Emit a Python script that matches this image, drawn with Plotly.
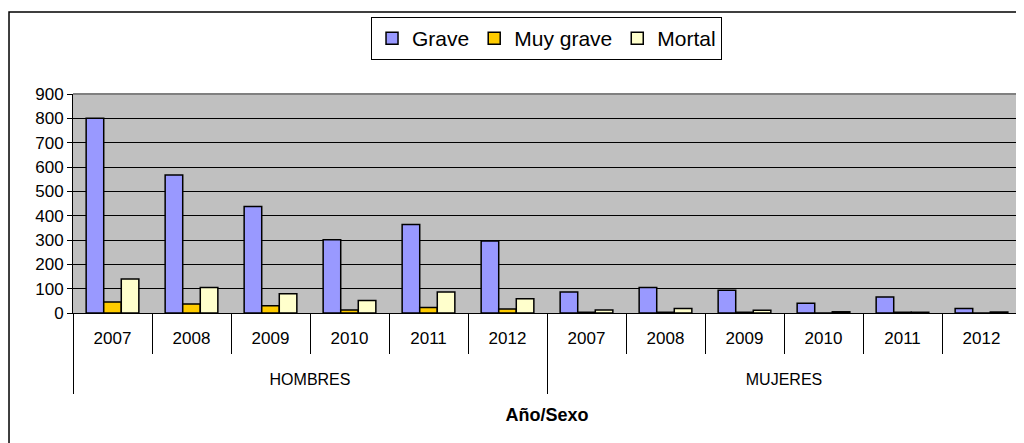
import plotly.graph_objects as go

groups = ["HOMBRES"] * 6 + ["MUJERES"] * 6
years = ["2007", "2008", "2009", "2010", "2011", "2012"] * 2

grave = [800, 567, 438, 301, 364, 296, 86, 105, 93, 40, 66, 18]
muy_grave = [45, 37, 30, 12, 23, 16, 3, 3, 3, 0, 3, 0]
mortal = [140, 105, 79, 51, 86, 59, 12, 18, 11, 5, 3, 4]

y_ticks = list(range(0, 901, 100))

series = [
    ("Grave", grave, "#9999FF"),
    ("Muy grave", muy_grave, "#FFCC00"),
    ("Mortal", mortal, "#FFFFCC"),
]

idx = list(range(len(years)))
group_names = []
for g in groups:
    if g not in group_names:
        group_names.append(g)
group_centers = [sum(i for i in idx if groups[i] == g) / groups.count(g) for g in group_names]
group_bounds = [-0.5] + [i + 0.5 for i in idx[:-1] if groups[i] != groups[i + 1]] + [len(idx) - 0.5]
cat_bounds = [i - 0.5 for i in idx] + [len(idx) - 0.5]
xr = [-0.5, len(idx) - 0.5]

fig = go.Figure()
for name, vals, col in series:
    fig.add_trace(go.Bar(
        x=idx, y=vals, name=name,
        marker=dict(color=col, line=dict(color="black", width=1.5)),
    ))
# invisible carrier trace so the outer (group) axis is rendered
fig.add_trace(go.Scatter(
    x=group_centers, y=[None] * len(group_centers), xaxis="x2", yaxis="y",
    mode="markers", showlegend=False, hoverinfo="skip",
))

W, H = 1016, 435
fig.update_layout(
    width=W, height=H,
    margin=dict(l=65, r=3, t=86, b=130, autoexpand=False),
    paper_bgcolor="white",
    plot_bgcolor="#C0C0C0",
    barmode="group",
    bargap=0.333,
    bargroupgap=0,
    font=dict(family="Liberation Sans, Arial, sans-serif", color="black", size=17),
    showlegend=True,
    legend=dict(
        orientation="h", x=0.4995, xanchor="center", y=1.3516, yanchor="top",
        bordercolor="black", borderwidth=1, bgcolor="white",
        font=dict(size=21), itemwidth=30, tracegroupgap=0,
    ),
    xaxis=dict(
        range=xr, automargin=False,
        tickmode="array", tickvals=idx, ticktext=years,
        ticks="", ticklabelstandoff=10,
        minor=dict(tickmode="array", tickvals=cat_bounds, ticks="outside",
                   ticklen=40, tickcolor="black", tickwidth=1, showgrid=False),
        showline=True, linecolor="black", linewidth=1,
        showgrid=False, zeroline=False,
        tickfont=dict(size=17),
    ),
    xaxis2=dict(
        range=xr, overlaying="x", side="bottom", anchor="y", automargin=False,
        tickmode="array", tickvals=group_centers, ticktext=group_names,
        ticks="", ticklabelstandoff=55,
        minor=dict(tickmode="array", tickvals=group_bounds, ticks="outside",
                   ticklen=80, tickcolor="black", tickwidth=1, showgrid=False),
        showline=False, showgrid=False, zeroline=False,
        tickfont=dict(size=16),
        title=dict(text="<b>Año/Sexo</b>", font=dict(size=18), standoff=21),
    ),
    yaxis=dict(
        range=[0, 900], tickmode="array", tickvals=y_ticks, automargin=False,
        showgrid=True, gridcolor="black", gridwidth=1,
        showline=True, linecolor="black", linewidth=1,
        ticks="outside", ticklen=5, tickcolor="black",
        zeroline=False,
        tickfont=dict(size=17),
    ),
    shapes=[
        dict(type="rect", xref="paper", yref="paper",
             x0=-0.0675, x1=1.02, y0=-0.7, y1=1.374,
             line=dict(color="black", width=1.5), fillcolor="rgba(0,0,0,0)", layer="below"),
        dict(type="line", xref="paper", yref="paper", x0=0, x1=1, y0=1, y1=1,
             line=dict(color="#808080", width=2)),
        dict(type="line", xref="paper", yref="paper", x0=1, x1=1, y0=0, y1=1,
             line=dict(color="#808080", width=2)),
    ],
)

fig.write_html("out.html")
